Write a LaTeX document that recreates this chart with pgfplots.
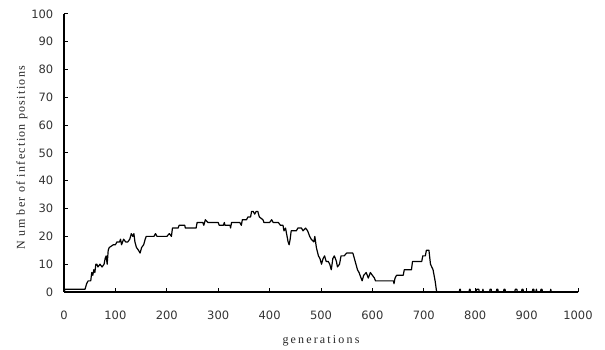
\documentclass[border=0pt]{standalone}
\usepackage{pgfplots}
\pgfplotsset{compat=1.18}
\usepackage{fontspec}
\newfontfamily\tickfont{DejaVu Sans}
\newfontfamily\xlabfont[LetterSpace=18]{Liberation Serif}
\newfontfamily\ylabfont[LetterSpace=11]{Liberation Serif}
\begin{document}
\begin{tikzpicture}
\begin{axis}[
  at={(0,0)}, anchor=south west,
  scale only axis, width=514pt, height=278pt,
  xmin=0, xmax=1000, ymin=0, ymax=100,
  enlargelimits=false,
  axis x line=bottom, axis y line=left,
  axis line style={-, line width=1.2pt, black},
  xtick={0,100,...,1000}, ytick={0,10,...,100},
  tick align=inside, major tick length=4pt,
  tick style={line width=1pt, black},
  /pgf/number format/assume math mode=true,
  /pgf/number format/1000 sep={},
  tick label style={font=\tickfont\fontsize{11.5}{12}\selectfont, text=black!80},
  xticklabel style={anchor=base, yshift=-27.5pt},
  yticklabel style={anchor=east, inner sep=0pt, xshift=-10.5pt},
  xlabel={generations},
  ylabel={N um ber of infection positions},
  xlabel style={at={(axis description cs:0.5,-0.1835)}, anchor=base, font=\xlabfont\fontsize{12}{14}\selectfont, text=black!85},
  ylabel style={at={(axis description cs:-0.0817,0.484)}, anchor=center, rotate=0, font=\ylabfont\fontsize{12}{14}\selectfont, text=black!85},
  clip=false,
]
\addplot[black, line width=1.2pt, line join=round] coordinates {
(0,0) (2,1) (41,1) (44,3) (47,4) (52,4) (54,7) (56,6) (58,8) (60,7) (62,10) (64,10) (66,9) (70,10) (74,9) (78,10) (80,12) (82,13) (84,10) (86,15) (88,16) (96,17) (100,17) (103,18) (108,18) (110,19) (112,17) (116,19) (120,18) (124,18) (128,19) (131,21) (134,20) (136,21) (138,18) (141,16) (145,15) (148,14) (151,16) (155,17) (158,19) (160,20) (175,20) (178,21) (181,20) (200,20) (205,21) (209,20) (211,23) (222,23) (224,24) (235,24) (236,23) (257,23) (259,25) (270,25) (272,24) (275,26) (280,25) (300,25) (302,24) (310,24) (312,25) (313,24) (323,24) (324,23) (326,25) (342,25) (345,24) (347,26) (355,26) (358,27) (363,27) (365,29) (368,29) (371,28) (374,29) (377,29) (380,27) (387,26) (389,25) (400,25) (404,26) (407,25) (417,25) (421,24) (426,24) (428,22) (431,23) (433,21) (436,18) (438,17) (440,19) (442,22) (452,22) (455,23) (462,23) (465,22) (470,23) (474,22) (478,20) (481,19) (486,18) (488,20) (491,16) (495,13) (498,12) (501,10) (504,12) (507,13) (510,11) (514,11) (517,10) (520,8) (523,12) (526,13) (530,11) (532,9) (536,10) (539,13) (545,13) (550,14) (562,14) (565,12) (568,10) (571,8) (574,7) (578,5) (580,4) (583,6) (588,7) (592,5) (596,7) (600,6) (604,5) (606,4) (641,4) (642,3) (644,5) (647,6) (660,6) (662,8) (676,8) (678,11) (696,11) (698,13) (703,13) (705,15) (710,15) (713,10) (718,8) (722,4) (725,0)
(769,0) (770,1) (771,1) (772,0) (788,0) (789,1) (790,1) (791,0) (802,0) (803,1) (807,1) (808,0) (814,0) (815,1) (816,0) (828,0) (829,1) (831,1) (832,0) (841,0) (842,1) (844,1) (845,0) (855,0) (856,1) (858,1) (859,0) (877,0) (878,1) (881,1) (882,0) (890,0) (891,1) (893,1) (894,0) (911,0) (912,1) (914,1) (915,0) (918,0) (919,1) (920,0) (927,0) (928,1) (930,1) (931,0) (946,0) (947,1) (948,0) (1000,0)
};
\end{axis}
\pgfresetboundingbox
\useasboundingbox (-64pt,-58pt) rectangle (541pt,292pt);
\end{tikzpicture}
\end{document}
